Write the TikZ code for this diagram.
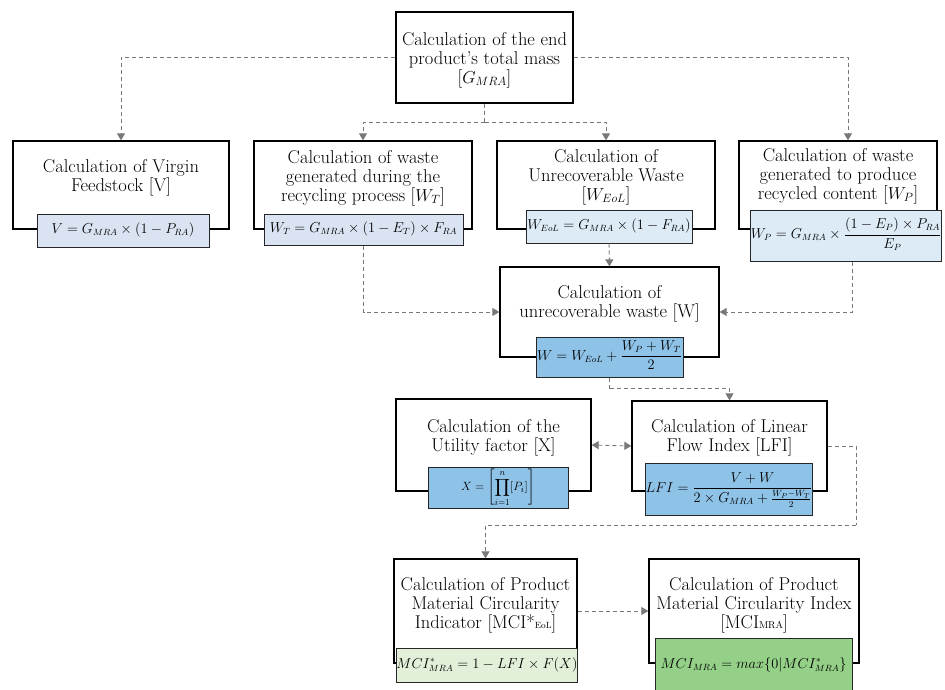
\documentclass[tikz,border=0pt]{standalone}
\usetikzlibrary{arrows.meta}
\usepackage{amsmath}
\definecolor{lblue}{RGB}{218,227,242}
\definecolor{lblueb}{RGB}{221,235,247}
\definecolor{mblue}{RGB}{142,194,231}
\definecolor{lgreen}{RGB}{226,240,217}
\definecolor{dgreen}{RGB}{148,208,135}
\definecolor{arrgray}{RGB}{120,120,120}
\begin{document}
\begin{tikzpicture}[x=1pt,y=-1pt,
  outerbox/.style={draw=black,line width=1.3pt,fill=white,inner sep=0pt},
  titletext/.style={align=center,inner sep=0pt,font=\fontsize{18.5}{19}\selectfont},
  formbox/.style={draw=black!85,line width=1pt,inner sep=0pt,text height=9pt,text depth=3pt,font=\fontsize{13.5}{16}\selectfont},
  arr/.style={draw=arrgray,dash pattern=on 4pt off 3pt,line width=0.9pt,-{Triangle[width=8pt,length=7pt]}},
  arrb/.style={draw=arrgray,dash pattern=on 4pt off 3pt,line width=0.9pt,{Triangle[width=8pt,length=7pt]}-{Triangle[width=8pt,length=7pt]}},
  line/.style={draw=arrgray,dash pattern=on 4pt off 3pt,line width=0.9pt}
]
\useasboundingbox (0,0) rectangle (945,689);

% outer boxes
\node[outerbox,minimum width=177pt,minimum height=91pt] (g) at (484.5,57.5) {};
\node[outerbox,minimum width=216pt,minimum height=88pt] (b1) at (121,185) {};
\node[outerbox,minimum width=218pt,minimum height=88pt] (b2) at (363,185) {};
\node[outerbox,minimum width=218pt,minimum height=88pt] (b3) at (606,185) {};
\node[outerbox,minimum width=198pt,minimum height=88pt] (b4) at (838,185) {};
\node[outerbox,minimum width=219pt,minimum height=90pt] (w) at (609.5,312) {};
\node[outerbox,minimum width=195pt,minimum height=92pt] (ux) at (493.5,445) {};
\node[outerbox,minimum width=195pt,minimum height=90pt] (lfi) at (729.5,446) {};
\node[outerbox,minimum width=183pt,minimum height=104pt] (ms) at (485.5,611) {};
\node[outerbox,minimum width=210pt,minimum height=104pt] (mc) at (754,611) {};

% titles
\node[titletext] (gt) at (484.5,60) {Calculation of the end\\product's total mass\\{}[$G_{MRA}$]};
\node[titletext] (b1t) at (121,178) {Calculation of Virgin\\Feedstock [V]};
\node[titletext] (b2t) at (363,178) {Calculation of waste\\generated during the\\recycling process [$W_T$]};
\node[titletext] (b3t) at (606,177) {Calculation of\\Unrecoverable Waste\\{}[$W_{EoL}$]};
\node[titletext] (b4t) at (838,176) {Calculation of waste\\generated to produce\\recycled content [$W_P$]};
\node[titletext] (wt) at (609.5,304) {Calculation of\\unrecoverable waste [W]};
\node[titletext] (uxt) at (493.5,438) {Calculation of the\\Utility factor [X]};
\node[titletext] (lfit) at (729.5,438) {Calculation of Linear\\Flow Index [LFI]};
\node[titletext] (mst) at (485.5,605) {Calculation of Product\\Material Circularity\\Indicator [MCI*{\fontsize{9}{9}\selectfont EoL}]};
\node[titletext] (mct) at (754,605) {Calculation of Product\\Material Circularity Index\\{}[MCI{\fontsize{10}{10}\selectfont MRA}]};

% formula boxes
\node[formbox,fill=lblue,minimum width=172pt,minimum height=33pt] (f1) at (123,230.5) {$V = G_{MRA} \times (1 - P_{RA})$};
\node[formbox,fill=lblue,minimum width=199pt,minimum height=31pt] (f2) at (363.5,229.5) {$W_T = G_{MRA} \times (1 - E_T) \times F_{RA}$};
\node[formbox,fill=lblueb,minimum width=166pt,minimum height=33pt] (f3) at (609,226.5) {$W_{EoL} = G_{MRA} \times (1 - F_{RA})$};
\node[formbox,fill=lblueb,minimum width=182pt,minimum height=51pt] (f4) at (846,235.5) {$W_P = G_{MRA} \times \dfrac{(1 - E_P) \times P_{RA}}{E_P}$};
\node[formbox,fill=mblue,minimum width=147pt,minimum height=40pt] (wf) at (609.5,357) {$W = W_{EoL} + \dfrac{W_P + W_T}{2}$};
\node[formbox,fill=mblue,minimum width=140pt,minimum height=41pt,font=\fontsize{12.5}{15}\selectfont] (xf) at (498,487.5) {$X = \left[\displaystyle\prod_{i=1}^{n} [P_i]\right]$};
\node[formbox,fill=mblue,minimum width=162pt,minimum height=52pt] (lf) at (729,489) {$LFI = \dfrac{V + W}{2 \times G_{MRA} + \frac{W_P - W_T}{2}}$};
\node[formbox,fill=lgreen,minimum width=172pt,minimum height=34pt] (msf) at (487,665) {$MCI^{*}_{MRA} = 1 - LFI \times F(X)$};
\node[formbox,fill=dgreen,minimum width=197pt,minimum height=54pt] (mcf) at (753.5,665) {$MCI_{MRA} = max\{0|MCI^{*}_{MRA}\}$};

% connectors
\draw[arr] (g.west) -| (b1.north);
\draw[arr] (g.east) -| ([xshift=10pt]b4.north);
\draw[line] (g.south) -- ++(0,19) coordinate (split);
\draw[arr] (split) -| (b2.north);
\draw[arr] (split) -| (b3.north);
\draw[arr] (f2.south) |- (w.west);
\draw[arr] ([xshift=6pt]f4.south) |- (w.east);
\draw[arr] (f3.south) -- (w.north);
\draw[line] (wf.south) -- ++(0,11) coordinate (wsplit);
\draw[arr] (wsplit) -| (lfi.north);
\draw[arrb] (ux.east) -- (lfi.west);
\coordinate (loop) at (856,525);
\draw[line] (lfi.east) -| (loop);
\draw[arr] (loop) -| (ms.north);
\draw[arr] (ms.east) -- (mc.west);
\end{tikzpicture}
\end{document}
